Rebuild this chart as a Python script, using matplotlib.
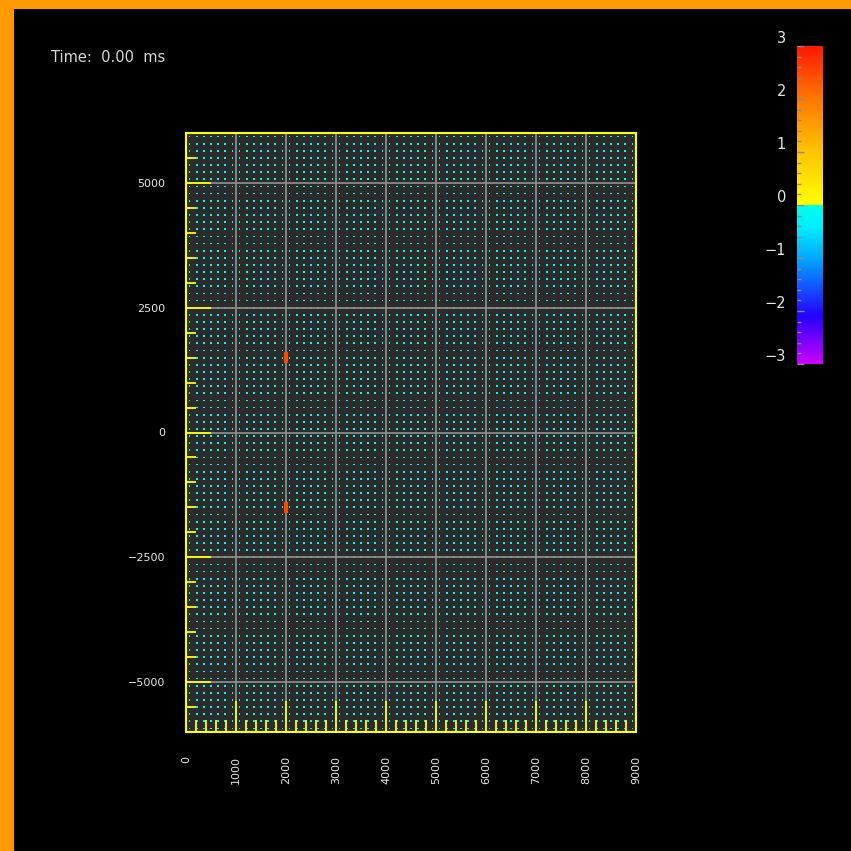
import numpy as np
import matplotlib
matplotlib.use("Agg")
import matplotlib.pyplot as plt
from matplotlib.colors import LinearSegmentedColormap, Normalize
from matplotlib.patches import Rectangle
from matplotlib.ticker import MultipleLocator

# === MODEL GRID & SNAPSHOT (t = 0) ===
x_min, x_max = 0, 9000
y_min, y_max = -6000, 6000
cell = 1000 / 7                      # receiver spacing (m)
grid_x = np.arange(x_min + cell / 2, x_max, cell)
grid_y = np.arange(y_min + cell / 2, y_max, cell)
field_value = -0.1                   # quiet medium, everything just below zero

src_x = [2000, 2000]
src_y = [1500, -1500]
src_value = [2.5, 2.5]

time_ms = 0.00

x_ticks = np.arange(0, 9001, 1000)
y_ticks = [-5000, -2500, 0, 2500, 5000]
cbar_ticks = [-3, -2, -1, 0, 1, 2, 3]

# split palette: cold below zero, warm above
cmap = LinearSegmentedColormap.from_list("wave", [
    (0.0, "#cc00ff"),
    (0.15, "#2400ff"),
    (0.333, "#00a8ff"),
    (0.43, "#00eeff"),
    (0.5, "#00ffea"),
    (0.5, "#ffff00"),
    (0.667, "#ffc400"),
    (0.833, "#ff7800"),
    (1.0, "#ff1800"),
], N=600)
norm = Normalize(vmin=-3, vmax=3)

W = H = 851
fig = plt.figure(figsize=(W / 100, H / 100), dpi=100, facecolor="#ff9900")
fig.patches.append(Rectangle((14 / W, 0), 1 - 14 / W, 1 - 9 / H,
                             transform=fig.transFigure, facecolor="black",
                             edgecolor="none", zorder=-10))

def px_axes(left, top, right, bottom):
    return fig.add_axes([left / W, 1 - bottom / H, (right - left) / W, (bottom - top) / H])

ax = px_axes(186, 133, 636, 732)
ax.set_facecolor("#2b2b2b")

gx, gy = np.meshgrid(grid_x, grid_y)
vals = np.full(gx.shape, field_value)
ax.scatter(gx.ravel(), gy.ravel(), s=1.6, marker="s", linewidths=0,
           c=vals.ravel(), cmap=cmap, norm=norm, zorder=1)
ax.scatter(src_x, src_y, c=src_value, cmap=cmap, norm=norm, marker="|",
           s=60, linewidths=3, zorder=3)

ax.set_xlim(x_min, x_max)
ax.set_ylim(y_min, y_max)
ax.set_xticks(x_ticks)
ax.set_yticks(y_ticks)
ax.xaxis.set_minor_locator(MultipleLocator(200))
ax.yaxis.set_minor_locator(MultipleLocator(500))
ax.grid(True, which="major", color="#8a8a8a", linewidth=1.3)
ax.set_axisbelow(False)

ax.tick_params(which="both", direction="in", color="#ffff00", width=1.3,
               labelcolor="#e6e6e6", labelsize=8)
ax.tick_params(axis="x", which="major", length=22, pad=17, labelrotation=90)
ax.tick_params(axis="x", which="minor", length=9)
ax.tick_params(axis="y", which="major", length=18, pad=15)
ax.tick_params(axis="y", which="minor", length=7)
for sp in ax.spines.values():
    sp.set_color("#ffff00")
    sp.set_linewidth(1.5)
    sp.set_zorder(4)

fig.text(51 / W, 1 - 57 / H, f"Time:  {time_ms:.2f}  ms", color="#d8d8d8",
         fontsize=10.5, va="center", ha="left")

# === COLOUR BAR ===
cax = px_axes(797, 46, 823, 364)
cb = fig.colorbar(plt.cm.ScalarMappable(norm=norm, cmap=cmap), cax=cax)
cb.outline.set_visible(False)
cb.set_ticks(cbar_ticks)
cax.yaxis.set_ticks_position("left")
cax.yaxis.set_label_position("left")
cax.yaxis.set_minor_locator(MultipleLocator(0.2))
cax.tick_params(which="both", direction="in", color="#8a8a8a", width=1,
                labelcolor="#e6e6e6", labelsize=10.5, pad=8)
cax.tick_params(which="major", length=5)
cax.tick_params(which="minor", length=3)
for t in cax.get_yticklabels():
    t.set_verticalalignment("bottom")

fig.savefig("out.png", dpi=100, facecolor=fig.get_facecolor())
